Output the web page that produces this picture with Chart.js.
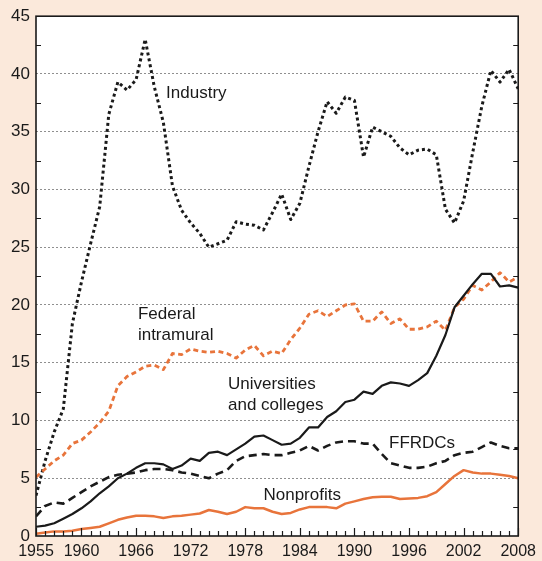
<!DOCTYPE html>
<html>
<head>
<meta charset="utf-8">
<title>R&amp;D by performer, 1955-2008</title>
<script src="https://cdn.jsdelivr.net/npm/chart.js@4.4.1/dist/chart.umd.min.js"></script>
<style>
  html, body { margin: 0; padding: 0; background: #fbe9db; }
  canvas { display: block; }
</style>
</head>
<body>
<canvas id="rdchart" width="542" height="561"></canvas>
<script>
// years on the x axis
const years = [1955, 1956, 1957, 1958, 1959, 1960, 1961, 1962, 1963, 1964,
  1965, 1966, 1967, 1968, 1969, 1970, 1971, 1972, 1973, 1974,
  1975, 1976, 1977, 1978, 1979, 1980, 1981, 1982, 1983, 1984,
  1985, 1986, 1987, 1988, 1989, 1990, 1991, 1992, 1993, 1994,
  1995, 1996, 1997, 1998, 1999, 2000, 2001, 2002, 2003, 2004,
  2005, 2006, 2007, 2008];

const labeledYears = [1955, 1960, 1966, 1972, 1978, 1984, 1990, 1996, 2002, 2008];
const yTicks = [0, 5, 10, 15, 20, 25, 30, 35, 40, 45];

const industry = [3.5, 6.5, 9.0, 11.0, 18.4, 22.0, 25.3, 28.5, 36.5, 39.3,
  38.6, 39.5, 43.0, 38.9, 35.8, 30.3, 28.2, 27.1, 26.2, 25.0,
  25.3, 25.6, 27.2, 27.0, 26.9, 26.5, 28.0, 29.6, 27.4, 28.8,
  32.0, 35.0, 37.6, 36.6, 38.0, 37.7, 32.8, 35.4, 35.0, 34.6,
  33.6, 33.0, 33.4, 33.5, 33.0, 28.3, 27.1, 29.0, 33.2, 37.2,
  40.3, 39.3, 40.4, 38.7];

const federal = [5.1, 5.8, 6.5, 7.0, 8.0, 8.3, 9.0, 9.8, 10.8, 13.0,
  13.8, 14.2, 14.7, 14.8, 14.4, 15.8, 15.7, 16.2, 16.0, 15.9,
  16.0, 15.8, 15.4, 16.1, 16.5, 15.6, 16.0, 15.8, 17.0, 18.0,
  19.2, 19.5, 19.0, 19.5, 20.0, 20.1, 18.6, 18.6, 19.4, 18.4,
  18.8, 17.9, 17.9, 18.1, 18.6, 17.8, 19.8, 20.5, 21.7, 21.3,
  22.0, 22.8, 22.0, 22.4];

const universities = [0.8, 0.9, 1.1, 1.5, 1.9, 2.4, 3.0, 3.7, 4.3, 5.0,
  5.4, 5.9, 6.3, 6.3, 6.2, 5.8, 6.1, 6.7, 6.5, 7.2,
  7.3, 7.0, 7.5, 8.0, 8.6, 8.7, 8.3, 7.9, 8.0, 8.5,
  9.4, 9.4, 10.3, 10.8, 11.6, 11.8, 12.5, 12.3, 13.0, 13.3,
  13.2, 13.0, 13.5, 14.1, 15.6, 17.4, 19.8, 20.8, 21.8, 22.7,
  22.7, 21.6, 21.7, 21.5];

const ffrdcs = [1.7, 2.6, 2.9, 2.8, 3.3, 3.8, 4.3, 4.7, 5.1, 5.3,
  5.4, 5.5, 5.7, 5.8, 5.8, 5.7, 5.5, 5.4, 5.2, 5.0,
  5.4, 5.7, 6.5, 6.9, 7.0, 7.1, 7.0, 7.0, 7.2, 7.4,
  7.8, 7.4, 7.8, 8.1, 8.2, 8.2, 8.0, 8.0, 7.1, 6.3,
  6.1, 5.9, 5.9, 6.0, 6.3, 6.5, 7.0, 7.2, 7.3, 7.7,
  8.1, 7.8, 7.6, 7.6];

const nonprofits = [0.2, 0.3, 0.4, 0.4, 0.45, 0.6, 0.7, 0.8, 1.1, 1.4,
  1.6, 1.75, 1.75, 1.7, 1.55, 1.7, 1.75, 1.85, 1.95, 2.25,
  2.1, 1.9, 2.1, 2.5, 2.4, 2.4, 2.1, 1.9, 2.0, 2.3,
  2.5, 2.5, 2.5, 2.4, 2.8, 3.0, 3.2, 3.35, 3.4, 3.4,
  3.2, 3.25, 3.3, 3.45, 3.8, 4.5, 5.2, 5.7, 5.5, 5.4,
  5.4, 5.3, 5.2, 5.0];

const ORANGE = '#e8743b';
const INK = '#1a1a1a';
const FONT = '"Liberation Sans", Arial, Helvetica, sans-serif';

// series names written inside the plot, anchored at [year, value]
const seriesNotes = [
  { lines: ['Industry'], at: [1969.3, 38.3] },
  { lines: ['Federal', 'intramural'], at: [1966.2, 19.2] },
  { lines: ['Universities', 'and colleges'], at: [1976.1, 13.1] },
  { lines: ['FFRDCs'], at: [1993.8, 8.0] },
  { lines: ['Nonprofits'], at: [1980.0, 3.5] }
];

function points(values) {
  return values.map(function (v, i) {
    return { x: years[i], y: v };
  });
}

const backdrop = {
  id: 'backdrop',
  beforeDraw(chart) {
    const { ctx, chartArea: a } = chart;
    ctx.save();
    ctx.fillStyle = '#fbe9db';
    ctx.fillRect(0, 0, chart.width, chart.height);
    ctx.fillStyle = '#ffffff';
    ctx.fillRect(a.left, a.top, a.right - a.left, a.bottom - a.top);
    ctx.restore();
  }
};

// box round the plot with short inward ticks
const frame = {
  id: 'frame',
  afterDatasetsDraw(chart) {
    const { ctx, chartArea: a, scales } = chart;
    ctx.save();
    ctx.strokeStyle = INK;
    ctx.lineWidth = 1.2;
    ctx.beginPath();
    for (let v = 2.5; v < 45; v += 5) {
      const py = Math.round(scales.y.getPixelForValue(v)) + 0.5;
      ctx.moveTo(a.left, py); ctx.lineTo(a.left + 5, py);
      ctx.moveTo(a.right, py); ctx.lineTo(a.right - 5, py);
    }
    years.forEach(function (yr) {
      const px = Math.round(scales.x.getPixelForValue(yr)) + 0.5;
      const len = labeledYears.includes(yr) ? 8 : 5;
      ctx.moveTo(px, a.bottom); ctx.lineTo(px, a.bottom - len);
    });
    ctx.stroke();
    ctx.lineWidth = 1.6;
    ctx.strokeRect(a.left, a.top, a.right - a.left, a.bottom - a.top);
    ctx.restore();
  }
};

const notes = {
  id: 'notes',
  afterDatasetsDraw(chart) {
    const { ctx, scales } = chart;
    ctx.save();
    ctx.fillStyle = INK;
    ctx.font = '17px ' + FONT;
    ctx.textAlign = 'left';
    ctx.textBaseline = 'middle';
    seriesNotes.forEach(function (n) {
      const px = scales.x.getPixelForValue(n.at[0]);
      const py = scales.y.getPixelForValue(n.at[1]);
      n.lines.forEach(function (t, i) {
        ctx.fillText(t, px, py + i * 21);
      });
    });
    ctx.restore();
  }
};

const data = {
  datasets: [{
    label: 'Nonprofits',
    data: points(nonprofits),
    borderColor: ORANGE,
    borderWidth: 2.5
  }, {
    label: 'FFRDCs',
    data: points(ffrdcs),
    borderColor: INK,
    borderWidth: 2.6,
    borderDash: [8, 5]
  }, {
    label: 'Universities and colleges',
    data: points(universities),
    borderColor: INK,
    borderWidth: 2.2
  }, {
    label: 'Federal intramural',
    data: points(federal),
    borderColor: ORANGE,
    borderWidth: 2.8,
    borderDash: [5, 3.5]
  }, {
    label: 'Industry',
    data: points(industry),
    borderColor: INK,
    borderWidth: 3,
    borderDash: [3, 3]
  }]
};

const config = {
  type: 'line',
  data,
  options: {
    responsive: false,
    animation: false,
    devicePixelRatio: 1,
    layout: { padding: { top: 14, right: 18, left: 0, bottom: 0 } },
    elements: {
      point: { radius: 0 },
      line: { tension: 0, fill: false, borderCapStyle: 'butt', borderJoinStyle: 'round' }
    },
    plugins: {
      legend: { display: false },
      tooltip: { enabled: false }
    },
    scales: {
      x: {
        type: 'linear',
        min: 1955,
        max: 2008,
        afterFit(scale) { scale.height = 25; },
        afterBuildTicks(scale) {
          scale.ticks = years.map(function (y) { return { value: y }; });
        },
        ticks: {
          autoSkip: false,
          maxRotation: 0,
          padding: 6,
          color: INK,
          font: { family: FONT, size: 16 },
          callback: function (value) {
            return labeledYears.includes(value) ? String(value) : '';
          }
        },
        grid: { display: false, drawTicks: false },
        border: { display: false }
      },
      y: {
        min: 0,
        max: 45,
        afterFit(scale) { scale.width = 36; },
        afterBuildTicks(scale) {
          scale.ticks = yTicks.map(function (v) { return { value: v }; });
        },
        ticks: {
          padding: 6,
          color: INK,
          font: { family: FONT, size: 17 }
        },
        grid: {
          drawTicks: false,
          lineWidth: 1,
          color: function (c) {
            const v = c.tick ? c.tick.value : 0;
            return (v === 0 || v === 45) ? 'rgba(0,0,0,0)' : '#8f8f8f';
          }
        },
        border: { display: false, dash: [2, 2] }
      }
    }
  },
  plugins: [backdrop, frame, notes]
};

const rdChart = new Chart(document.getElementById('rdchart'), config);
</script>
</body>
</html>
